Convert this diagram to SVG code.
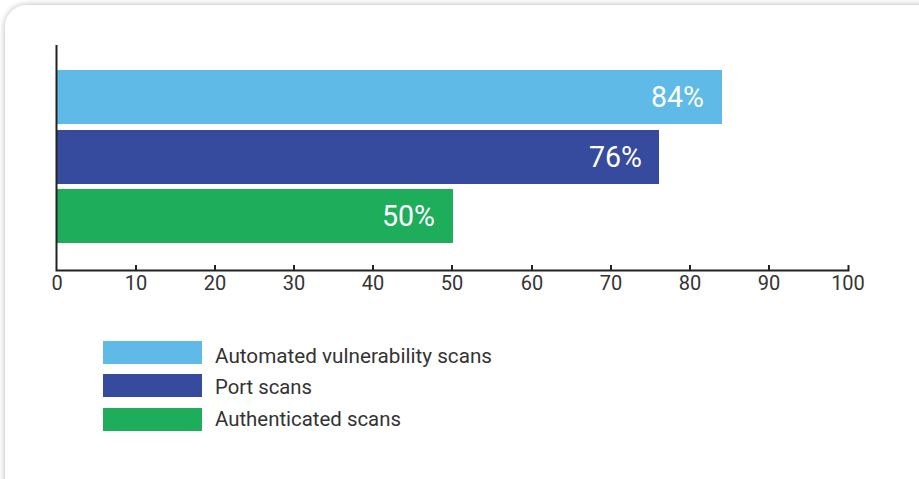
<svg xmlns="http://www.w3.org/2000/svg" width="919" height="479" viewBox="0 0 919 479">
<defs>
<filter id="sh" x="-5%" y="-5%" width="110%" height="110%">
<feGaussianBlur in="SourceAlpha" stdDeviation="3"/>
<feComponentTransfer><feFuncA type="linear" slope="0.3"/></feComponentTransfer>
<feMerge><feMergeNode/><feMergeNode in="SourceGraphic"/></feMerge>
</filter>
<style>
.ax{stroke:#222;stroke-width:2;fill:none}
.tk{font-family:Roboto,"Liberation Sans",sans-serif;font-size:20px;fill:#333;text-anchor:middle}
.pct{font-family:Roboto,"Liberation Sans",sans-serif;font-size:30px;fill:#fff;text-anchor:end}
.lg{font-family:Roboto,"Liberation Sans",sans-serif;font-size:20px;fill:#333}
.c1{fill:#5FBAE8}.c2{fill:#364A9E}.c3{fill:#1EAD5A}
</style>
</defs>
<rect width="919" height="479" fill="#fff"/>
<rect x="5" y="5" width="940" height="500" rx="22" fill="#fff" filter="url(#sh)"/>
<g id="bars">
<g id="bar-automated"><rect class="c1" x="57" y="70" width="665" height="54"/><text class="pct" x="704" y="107" textLength="53" lengthAdjust="spacingAndGlyphs">84%</text></g>
<g id="bar-port"><rect class="c2" x="57" y="130" width="602" height="54"/><text class="pct" x="642" y="167" textLength="53" lengthAdjust="spacingAndGlyphs">76%</text></g>
<g id="bar-auth"><rect class="c3" x="57" y="189" width="396" height="54"/><text class="pct" x="435" y="226" textLength="53" lengthAdjust="spacingAndGlyphs">50%</text></g>
</g>
<g id="axes">
<path class="ax" d="M56.5 45V270.5H848.5V265"/>
<path class="ax" d="M136 270V265M215 270V265M294 270V265M373 270V265M452 270V265M532 270V265M611 270V265M690 270V265M769 270V265"/>
<text class="tk" x="57" y="290">0</text>
<text class="tk" x="136" y="290">10</text>
<text class="tk" x="215" y="290">20</text>
<text class="tk" x="294" y="290">30</text>
<text class="tk" x="373" y="290">40</text>
<text class="tk" x="452" y="290">50</text>
<text class="tk" x="532" y="290">60</text>
<text class="tk" x="611" y="290">70</text>
<text class="tk" x="690" y="290">80</text>
<text class="tk" x="769" y="290">90</text>
<text class="tk" x="848" y="290">100</text>
</g>
<g id="legend">
<g id="legend-automated"><rect class="c1" x="103" y="341" width="99" height="23"/><text class="lg" x="215" y="363" textLength="277" lengthAdjust="spacingAndGlyphs">Automated vulnerability scans</text></g>
<g id="legend-port"><rect class="c2" x="103" y="374" width="99" height="23"/><text class="lg" x="215" y="394" textLength="97" lengthAdjust="spacingAndGlyphs">Port scans</text></g>
<g id="legend-auth"><rect class="c3" x="103" y="408" width="99" height="23"/><text class="lg" x="215" y="426" textLength="186" lengthAdjust="spacingAndGlyphs">Authenticated scans</text></g>
</g>
</svg>
